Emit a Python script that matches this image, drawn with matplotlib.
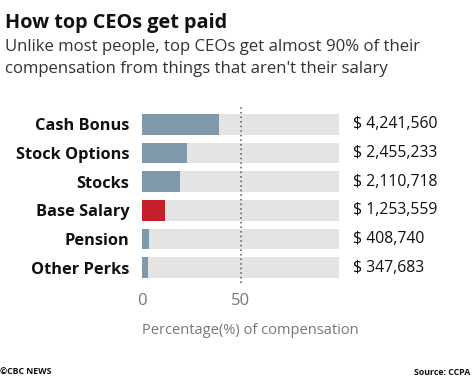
import matplotlib
matplotlib.use("Agg")
import matplotlib.pyplot as plt

plt.rcParams['font.family'] = ['Open Sans', 'DejaVu Sans']

categories = ["Cash Bonus", "Stock Options", "Stocks", "Base Salary", "Pension", "Other Perks"]
amounts = ["$ 4,241,560", "$ 2,455,233", "$ 2,110,718", "$ 1,253,559", "$ 408,740", "$ 347,683"]
percent = [39.2, 22.7, 19.5, 11.6, 3.8, 3.2]
highlight = "Base Salary"
xticks = [0, 50]

W, H = 474, 379
fig = plt.figure(figsize=(W / 100, H / 100), dpi=100)
fig.patch.set_facecolor("white")

ax = fig.add_axes([142 / W, 1 - 283 / H, (339 - 142) / W, 178 / H])
ypos = list(range(len(categories)))
ax.barh(ypos, [100] * len(categories), height=0.72, color="#e4e4e4", zorder=1)
colors = ["#c41f2b" if c == highlight else "#7f98aa" for c in categories]
ax.barh(ypos, percent, height=0.72, color=colors, zorder=2)
ax.axvline(50, color="#555555", linestyle=(0, (1, 2)), lw=1.1, zorder=3)
ax.set_xlim(0, 100)
ax.set_ylim(5.54, -0.674)
for s in ax.spines.values():
    s.set_visible(False)
ax.set_yticks(ypos)
ax.set_yticklabels(categories, fontsize=11.8, fontweight="bold", color="#111111")
ax.tick_params(axis="y", length=0, pad=9)
ax.set_xticks(xticks)
ax.set_xticklabels([str(t) for t in xticks], fontsize=12, color="#777777")
ax.tick_params(axis="x", length=0, pad=7)

for y, a in zip(ypos, amounts):
    ax.text(1 + (353 - 339) / (339 - 142), y, a, transform=ax.get_yaxis_transform(),
            ha="left", va="center", fontsize=11.3, color="#111111")

fig.text(142 / W, 1 - 330 / H, "Percentage(%) of compensation", ha="left", va="center",
         fontsize=10.5, color="#777777")

fig.text(5 / W, 1 - 28 / H, "How top CEOs get paid", ha="left", va="baseline",
         fontsize=14.3, fontweight="bold", color="#111111")
fig.text(5 / W, 1 - 51 / H, "Unlike most people, top CEOs get almost 90% of their",
         ha="left", va="baseline", fontsize=12.1, color="#333333")
fig.text(5 / W, 1 - 73 / H, "compensation from things that aren't their salary",
         ha="left", va="baseline", fontsize=12.1, color="#333333")

fig.text(0 / W, 1 - 375 / H, "©CBC NEWS", ha="left", va="baseline",
         fontsize=6.3, fontweight="bold", color="#111111")
fig.text(470 / W, 1 - 375 / H, "Source: CCPA", ha="right", va="baseline",
         fontsize=6.3, fontweight="bold", color="#111111")

fig.savefig("out.png", dpi=100, facecolor="white")
